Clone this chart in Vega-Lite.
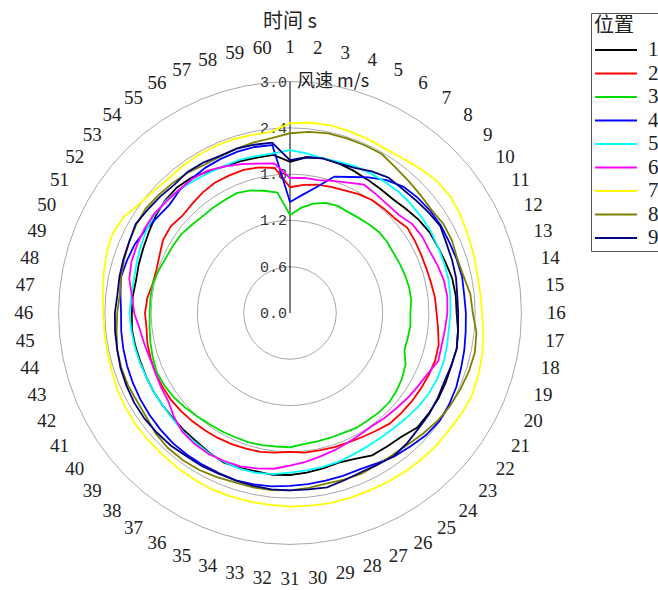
{
"$schema": "https://vega.github.io/schema/vega-lite/v6.json",
"width": 540, "height": 540,
"autosize": "none",
"padding": {"left": 20, "top": 43, "right": 98, "bottom": 7},
"background": "white",
"config": {"view": {"stroke": null}},
"title": {"text": "时间 s", "frame": "group", "anchor": "middle", "offset": -6, "dy": 13, "fontSize": 20, "fontWeight": "normal", "font": "Noto Sans CJK SC", "color": "#222"},
"datasets": {
"rings": [{"r":0.6},{"r":1.2},{"r":1.8},{"r":2.4},{"r":3.0}],
"ticks": [{"r":0},{"r":0.6},{"r":1.2},{"r":1.8},{"r":2.4},{"r":3.0}],
"speed": [
{"s":1,"t":1,"v":1.96},{"s":1,"t":2,"v":2.03},{"s":1,"t":3,"v":2.05},{"s":1,"t":4,"v":2.04},{"s":1,"t":5,"v":2.02},{"s":1,"t":6,"v":2.00},{"s":1,"t":7,"v":1.99},{"s":1,"t":8,"v":1.99},{"s":1,"t":9,"v":2.02},{"s":1,"t":10,"v":2.06},
{"s":1,"t":11,"v":2.09},{"s":1,"t":12,"v":2.10},{"s":1,"t":13,"v":2.12},{"s":1,"t":14,"v":2.15},{"s":1,"t":15,"v":2.16},{"s":1,"t":16,"v":2.16},{"s":1,"t":17,"v":2.19},{"s":1,"t":18,"v":2.21},{"s":1,"t":19,"v":2.20},{"s":1,"t":20,"v":2.21},
{"s":1,"t":21,"v":2.22},{"s":1,"t":22,"v":2.22},{"s":1,"t":23,"v":2.22},{"s":1,"t":24,"v":2.16},{"s":1,"t":25,"v":2.14},{"s":1,"t":26,"v":2.13},{"s":1,"t":27,"v":2.07},{"s":1,"t":28,"v":2.04},{"s":1,"t":29,"v":2.06},{"s":1,"t":30,"v":2.08},
{"s":1,"t":31,"v":2.10},{"s":1,"t":32,"v":2.11},{"s":1,"t":33,"v":2.10},{"s":1,"t":34,"v":2.11},{"s":1,"t":35,"v":2.12},{"s":1,"t":36,"v":2.09},{"s":1,"t":37,"v":2.06},{"s":1,"t":38,"v":2.05},{"s":1,"t":39,"v":2.04},{"s":1,"t":40,"v":2.04},
{"s":1,"t":41,"v":2.04},{"s":1,"t":42,"v":2.04},{"s":1,"t":43,"v":2.04},{"s":1,"t":44,"v":2.05},{"s":1,"t":45,"v":2.06},{"s":1,"t":46,"v":2.05},{"s":1,"t":47,"v":2.05},{"s":1,"t":48,"v":2.04},{"s":1,"t":49,"v":2.06},{"s":1,"t":50,"v":2.08},
{"s":1,"t":51,"v":2.11},{"s":1,"t":52,"v":2.15},{"s":1,"t":53,"v":2.18},{"s":1,"t":54,"v":2.19},{"s":1,"t":55,"v":2.17},{"s":1,"t":56,"v":2.12},{"s":1,"t":57,"v":2.08},{"s":1,"t":58,"v":2.07},{"s":1,"t":59,"v":2.06},{"s":1,"t":60,"v":2.06},
{"s":2,"t":1,"v":1.63},{"s":2,"t":2,"v":1.67},{"s":2,"t":3,"v":1.70},{"s":2,"t":4,"v":1.72},{"s":2,"t":5,"v":1.74},{"s":2,"t":6,"v":1.78},{"s":2,"t":7,"v":1.81},{"s":2,"t":8,"v":1.82},{"s":2,"t":9,"v":1.83},{"s":2,"t":10,"v":1.88},
{"s":2,"t":11,"v":1.87},{"s":2,"t":12,"v":1.86},{"s":2,"t":13,"v":1.86},{"s":2,"t":14,"v":1.87},{"s":2,"t":15,"v":1.89},{"s":2,"t":16,"v":1.90},{"s":2,"t":17,"v":1.93},{"s":2,"t":18,"v":1.97},{"s":2,"t":19,"v":1.98},{"s":2,"t":20,"v":1.97},
{"s":2,"t":21,"v":1.96},{"s":2,"t":22,"v":1.95},{"s":2,"t":23,"v":1.94},{"s":2,"t":24,"v":1.93},{"s":2,"t":25,"v":1.89},{"s":2,"t":26,"v":1.86},{"s":2,"t":27,"v":1.84},{"s":2,"t":28,"v":1.83},{"s":2,"t":29,"v":1.82},{"s":2,"t":30,"v":1.82},
{"s":2,"t":31,"v":1.80},{"s":2,"t":32,"v":1.82},{"s":2,"t":33,"v":1.84},{"s":2,"t":34,"v":1.85},{"s":2,"t":35,"v":1.86},{"s":2,"t":36,"v":1.87},{"s":2,"t":37,"v":1.88},{"s":2,"t":38,"v":1.89},{"s":2,"t":39,"v":1.90},{"s":2,"t":40,"v":1.91},
{"s":2,"t":41,"v":1.91},{"s":2,"t":42,"v":1.91},{"s":2,"t":43,"v":1.90},{"s":2,"t":44,"v":1.89},{"s":2,"t":45,"v":1.87},{"s":2,"t":46,"v":1.88},{"s":2,"t":47,"v":1.86},{"s":2,"t":48,"v":1.82},{"s":2,"t":49,"v":1.82},{"s":2,"t":50,"v":1.85},
{"s":2,"t":51,"v":1.90},{"s":2,"t":52,"v":1.91},{"s":2,"t":53,"v":1.88},{"s":2,"t":54,"v":1.90},{"s":2,"t":55,"v":1.93},{"s":2,"t":56,"v":1.95},{"s":2,"t":57,"v":1.95},{"s":2,"t":58,"v":1.95},{"s":2,"t":59,"v":1.93},{"s":2,"t":60,"v":1.89},
{"s":3,"t":1,"v":1.27},{"s":3,"t":2,"v":1.37},{"s":3,"t":3,"v":1.45},{"s":3,"t":4,"v":1.50},{"s":3,"t":5,"v":1.52},{"s":3,"t":6,"v":1.51},{"s":3,"t":7,"v":1.52},{"s":3,"t":8,"v":1.54},{"s":3,"t":9,"v":1.56},{"s":3,"t":10,"v":1.56},
{"s":3,"t":11,"v":1.55},{"s":3,"t":12,"v":1.56},{"s":3,"t":13,"v":1.57},{"s":3,"t":14,"v":1.58},{"s":3,"t":15,"v":1.58},{"s":3,"t":16,"v":1.56},{"s":3,"t":17,"v":1.57},{"s":3,"t":18,"v":1.56},{"s":3,"t":19,"v":1.56},{"s":3,"t":20,"v":1.64},
{"s":3,"t":21,"v":1.68},{"s":3,"t":22,"v":1.71},{"s":3,"t":23,"v":1.73},{"s":3,"t":24,"v":1.73},{"s":3,"t":25,"v":1.72},{"s":3,"t":26,"v":1.72},{"s":3,"t":27,"v":1.70},{"s":3,"t":28,"v":1.70},{"s":3,"t":29,"v":1.70},{"s":3,"t":30,"v":1.71},
{"s":3,"t":31,"v":1.74},{"s":3,"t":32,"v":1.74},{"s":3,"t":33,"v":1.75},{"s":3,"t":34,"v":1.76},{"s":3,"t":35,"v":1.76},{"s":3,"t":36,"v":1.77},{"s":3,"t":37,"v":1.78},{"s":3,"t":38,"v":1.80},{"s":3,"t":39,"v":1.83},{"s":3,"t":40,"v":1.86},
{"s":3,"t":41,"v":1.88},{"s":3,"t":42,"v":1.89},{"s":3,"t":43,"v":1.87},{"s":3,"t":44,"v":1.85},{"s":3,"t":45,"v":1.83},{"s":3,"t":46,"v":1.82},{"s":3,"t":47,"v":1.82},{"s":3,"t":48,"v":1.82},{"s":3,"t":49,"v":1.79},{"s":3,"t":50,"v":1.76},
{"s":3,"t":51,"v":1.75},{"s":3,"t":52,"v":1.74},{"s":3,"t":53,"v":1.71},{"s":3,"t":54,"v":1.69},{"s":3,"t":55,"v":1.69},{"s":3,"t":56,"v":1.69},{"s":3,"t":57,"v":1.70},{"s":3,"t":58,"v":1.67},{"s":3,"t":59,"v":1.62},{"s":3,"t":60,"v":1.57},
{"s":4,"t":1,"v":1.44},{"s":4,"t":2,"v":1.54},{"s":4,"t":3,"v":1.67},{"s":4,"t":4,"v":1.86},{"s":4,"t":5,"v":1.93},{"s":4,"t":6,"v":2.03},{"s":4,"t":7,"v":2.13},{"s":4,"t":8,"v":2.20},{"s":4,"t":9,"v":2.23},{"s":4,"t":10,"v":2.25},
{"s":4,"t":11,"v":2.26},{"s":4,"t":12,"v":2.26},{"s":4,"t":13,"v":2.27},{"s":4,"t":14,"v":2.28},{"s":4,"t":15,"v":2.27},{"s":4,"t":16,"v":2.28},{"s":4,"t":17,"v":2.29},{"s":4,"t":18,"v":2.31},{"s":4,"t":19,"v":2.33},{"s":4,"t":20,"v":2.36},
{"s":4,"t":21,"v":2.38},{"s":4,"t":22,"v":2.39},{"s":4,"t":23,"v":2.37},{"s":4,"t":24,"v":2.33},{"s":4,"t":25,"v":2.30},{"s":4,"t":26,"v":2.25},{"s":4,"t":27,"v":2.22},{"s":4,"t":28,"v":2.22},{"s":4,"t":29,"v":2.22},{"s":4,"t":30,"v":2.23},
{"s":4,"t":31,"v":2.24},{"s":4,"t":32,"v":2.26},{"s":4,"t":33,"v":2.27},{"s":4,"t":34,"v":2.28},{"s":4,"t":35,"v":2.27},{"s":4,"t":36,"v":2.27},{"s":4,"t":37,"v":2.27},{"s":4,"t":38,"v":2.27},{"s":4,"t":39,"v":2.26},{"s":4,"t":40,"v":2.25},
{"s":4,"t":41,"v":2.24},{"s":4,"t":42,"v":2.23},{"s":4,"t":43,"v":2.22},{"s":4,"t":44,"v":2.21},{"s":4,"t":45,"v":2.20},{"s":4,"t":46,"v":2.19},{"s":4,"t":47,"v":2.21},{"s":4,"t":48,"v":2.24},{"s":4,"t":49,"v":2.22},{"s":4,"t":50,"v":2.20},
{"s":4,"t":51,"v":2.16},{"s":4,"t":52,"v":2.12},{"s":4,"t":53,"v":2.10},{"s":4,"t":54,"v":2.14},{"s":4,"t":55,"v":2.16},{"s":4,"t":56,"v":2.18},{"s":4,"t":57,"v":2.19},{"s":4,"t":58,"v":2.20},{"s":4,"t":59,"v":2.20},{"s":4,"t":60,"v":2.19},
{"s":5,"t":1,"v":2.11},{"s":5,"t":2,"v":2.08},{"s":5,"t":3,"v":2.05},{"s":5,"t":4,"v":2.06},{"s":5,"t":5,"v":2.08},{"s":5,"t":6,"v":2.09},{"s":5,"t":7,"v":2.10},{"s":5,"t":8,"v":2.11},{"s":5,"t":9,"v":2.11},{"s":5,"t":10,"v":2.11},
{"s":5,"t":11,"v":2.11},{"s":5,"t":12,"v":2.10},{"s":5,"t":13,"v":2.10},{"s":5,"t":14,"v":2.10},{"s":5,"t":15,"v":2.09},{"s":5,"t":16,"v":2.08},{"s":5,"t":17,"v":2.07},{"s":5,"t":18,"v":2.08},{"s":5,"t":19,"v":2.09},{"s":5,"t":20,"v":2.09},
{"s":5,"t":21,"v":2.08},{"s":5,"t":22,"v":2.06},{"s":5,"t":23,"v":2.03},{"s":5,"t":24,"v":2.01},{"s":5,"t":25,"v":2.00},{"s":5,"t":26,"v":2.00},{"s":5,"t":27,"v":2.01},{"s":5,"t":28,"v":2.03},{"s":5,"t":29,"v":2.04},{"s":5,"t":30,"v":2.05},
{"s":5,"t":31,"v":2.07},{"s":5,"t":32,"v":2.10},{"s":5,"t":33,"v":2.12},{"s":5,"t":34,"v":2.12},{"s":5,"t":35,"v":2.11},{"s":5,"t":36,"v":2.10},{"s":5,"t":37,"v":2.08},{"s":5,"t":38,"v":2.07},{"s":5,"t":39,"v":2.05},{"s":5,"t":40,"v":2.04},
{"s":5,"t":41,"v":2.04},{"s":5,"t":42,"v":2.04},{"s":5,"t":43,"v":2.05},{"s":5,"t":44,"v":2.06},{"s":5,"t":45,"v":2.07},{"s":5,"t":46,"v":2.08},{"s":5,"t":47,"v":2.07},{"s":5,"t":48,"v":2.07},{"s":5,"t":49,"v":2.09},{"s":5,"t":50,"v":2.12},
{"s":5,"t":51,"v":2.15},{"s":5,"t":52,"v":2.17},{"s":5,"t":53,"v":2.17},{"s":5,"t":54,"v":2.15},{"s":5,"t":55,"v":2.12},{"s":5,"t":56,"v":2.10},{"s":5,"t":57,"v":2.09},{"s":5,"t":58,"v":2.09},{"s":5,"t":59,"v":2.08},{"s":5,"t":60,"v":2.08},
{"s":6,"t":1,"v":1.75},{"s":6,"t":2,"v":1.76},{"s":6,"t":3,"v":1.76},{"s":6,"t":4,"v":1.80},{"s":6,"t":5,"v":1.85},{"s":6,"t":6,"v":1.92},{"s":6,"t":7,"v":1.90},{"s":6,"t":8,"v":1.89},{"s":6,"t":9,"v":1.90},{"s":6,"t":10,"v":1.96},
{"s":6,"t":11,"v":1.98},{"s":6,"t":12,"v":1.98},{"s":6,"t":13,"v":2.01},{"s":6,"t":14,"v":2.04},{"s":6,"t":15,"v":2.05},{"s":6,"t":16,"v":2.04},{"s":6,"t":17,"v":2.02},{"s":6,"t":18,"v":2.01},{"s":6,"t":19,"v":2.02},{"s":6,"t":20,"v":1.95},
{"s":6,"t":21,"v":1.91},{"s":6,"t":22,"v":1.88},{"s":6,"t":23,"v":1.85},{"s":6,"t":24,"v":1.83},{"s":6,"t":25,"v":1.81},{"s":6,"t":26,"v":1.82},{"s":6,"t":27,"v":1.84},{"s":6,"t":28,"v":1.87},{"s":6,"t":29,"v":1.90},{"s":6,"t":30,"v":1.94},
{"s":6,"t":31,"v":1.98},{"s":6,"t":32,"v":2.03},{"s":6,"t":33,"v":2.06},{"s":6,"t":34,"v":2.09},{"s":6,"t":35,"v":2.10},{"s":6,"t":36,"v":2.11},{"s":6,"t":37,"v":2.10},{"s":6,"t":38,"v":2.08},{"s":6,"t":39,"v":2.02},{"s":6,"t":40,"v":1.95},
{"s":6,"t":41,"v":1.93},{"s":6,"t":42,"v":1.91},{"s":6,"t":43,"v":1.91},{"s":6,"t":44,"v":1.93},{"s":6,"t":45,"v":1.96},{"s":6,"t":46,"v":2.02},{"s":6,"t":47,"v":2.06},{"s":6,"t":48,"v":2.13},{"s":6,"t":49,"v":2.16},{"s":6,"t":50,"v":2.17},
{"s":6,"t":51,"v":2.18},{"s":6,"t":52,"v":2.18},{"s":6,"t":53,"v":2.16},{"s":6,"t":54,"v":2.15},{"s":6,"t":55,"v":2.15},{"s":6,"t":56,"v":2.13},{"s":6,"t":57,"v":2.08},{"s":6,"t":58,"v":2.03},{"s":6,"t":59,"v":1.98},{"s":6,"t":60,"v":1.95},
{"s":7,"t":1,"v":2.46},{"s":7,"t":2,"v":2.48},{"s":7,"t":3,"v":2.49},{"s":7,"t":4,"v":2.48},{"s":7,"t":5,"v":2.47},{"s":7,"t":6,"v":2.46},{"s":7,"t":7,"v":2.48},{"s":7,"t":8,"v":2.52},{"s":7,"t":9,"v":2.56},{"s":7,"t":10,"v":2.57},
{"s":7,"t":11,"v":2.55},{"s":7,"t":12,"v":2.52},{"s":7,"t":13,"v":2.50},{"s":7,"t":14,"v":2.48},{"s":7,"t":15,"v":2.48},{"s":7,"t":16,"v":2.49},{"s":7,"t":17,"v":2.52},{"s":7,"t":18,"v":2.55},{"s":7,"t":19,"v":2.57},{"s":7,"t":20,"v":2.59},
{"s":7,"t":21,"v":2.58},{"s":7,"t":22,"v":2.56},{"s":7,"t":23,"v":2.56},{"s":7,"t":24,"v":2.55},{"s":7,"t":25,"v":2.54},{"s":7,"t":26,"v":2.53},{"s":7,"t":27,"v":2.52},{"s":7,"t":28,"v":2.52},{"s":7,"t":29,"v":2.52},{"s":7,"t":30,"v":2.51},
{"s":7,"t":31,"v":2.51},{"s":7,"t":32,"v":2.50},{"s":7,"t":33,"v":2.50},{"s":7,"t":34,"v":2.50},{"s":7,"t":35,"v":2.50},{"s":7,"t":36,"v":2.49},{"s":7,"t":37,"v":2.48},{"s":7,"t":38,"v":2.47},{"s":7,"t":39,"v":2.47},{"s":7,"t":40,"v":2.47},
{"s":7,"t":41,"v":2.46},{"s":7,"t":42,"v":2.45},{"s":7,"t":43,"v":2.43},{"s":7,"t":44,"v":2.42},{"s":7,"t":45,"v":2.42},{"s":7,"t":46,"v":2.42},{"s":7,"t":47,"v":2.44},{"s":7,"t":48,"v":2.47},{"s":7,"t":49,"v":2.50},{"s":7,"t":50,"v":2.52},
{"s":7,"t":51,"v":2.49},{"s":7,"t":52,"v":2.41},{"s":7,"t":53,"v":2.37},{"s":7,"t":54,"v":2.35},{"s":7,"t":55,"v":2.36},{"s":7,"t":56,"v":2.37},{"s":7,"t":57,"v":2.37},{"s":7,"t":58,"v":2.37},{"s":7,"t":59,"v":2.36},{"s":7,"t":60,"v":2.36},
{"s":8,"t":1,"v":2.33},{"s":8,"t":2,"v":2.36},{"s":8,"t":3,"v":2.38},{"s":8,"t":4,"v":2.38},{"s":8,"t":5,"v":2.38},{"s":8,"t":6,"v":2.38},{"s":8,"t":7,"v":2.33},{"s":8,"t":8,"v":2.30},{"s":8,"t":9,"v":2.28},{"s":8,"t":10,"v":2.27},
{"s":8,"t":11,"v":2.30},{"s":8,"t":12,"v":2.30},{"s":8,"t":13,"v":2.28},{"s":8,"t":14,"v":2.30},{"s":8,"t":15,"v":2.35},{"s":8,"t":16,"v":2.37},{"s":8,"t":17,"v":2.43},{"s":8,"t":18,"v":2.45},{"s":8,"t":19,"v":2.44},{"s":8,"t":20,"v":2.42},
{"s":8,"t":21,"v":2.40},{"s":8,"t":22,"v":2.37},{"s":8,"t":23,"v":2.33},{"s":8,"t":24,"v":2.29},{"s":8,"t":25,"v":2.27},{"s":8,"t":26,"v":2.27},{"s":8,"t":27,"v":2.28},{"s":8,"t":28,"v":2.27},{"s":8,"t":29,"v":2.26},{"s":8,"t":30,"v":2.28},
{"s":8,"t":31,"v":2.30},{"s":8,"t":32,"v":2.31},{"s":8,"t":33,"v":2.31},{"s":8,"t":34,"v":2.31},{"s":8,"t":35,"v":2.33},{"s":8,"t":36,"v":2.35},{"s":8,"t":37,"v":2.36},{"s":8,"t":38,"v":2.36},{"s":8,"t":39,"v":2.34},{"s":8,"t":40,"v":2.30},
{"s":8,"t":41,"v":2.29},{"s":8,"t":42,"v":2.30},{"s":8,"t":43,"v":2.30},{"s":8,"t":44,"v":2.29},{"s":8,"t":45,"v":2.26},{"s":8,"t":46,"v":2.24},{"s":8,"t":47,"v":2.22},{"s":8,"t":48,"v":2.24},{"s":8,"t":49,"v":2.26},{"s":8,"t":50,"v":2.28},
{"s":8,"t":51,"v":2.30},{"s":8,"t":52,"v":2.31},{"s":8,"t":53,"v":2.29},{"s":8,"t":54,"v":2.27},{"s":8,"t":55,"v":2.25},{"s":8,"t":56,"v":2.22},{"s":8,"t":57,"v":2.22},{"s":8,"t":58,"v":2.24},{"s":8,"t":59,"v":2.26},{"s":8,"t":60,"v":2.28},
{"s":9,"t":1,"v":1.98},{"s":9,"t":2,"v":2.03},{"s":9,"t":3,"v":2.05},{"s":9,"t":4,"v":2.04},{"s":9,"t":5,"v":2.06},{"s":9,"t":6,"v":2.12},{"s":9,"t":7,"v":2.17},{"s":9,"t":8,"v":2.17},{"s":9,"t":9,"v":2.19},{"s":9,"t":10,"v":2.22},
{"s":9,"t":11,"v":2.25},{"s":9,"t":12,"v":2.22},{"s":9,"t":13,"v":2.21},{"s":9,"t":14,"v":2.20},{"s":9,"t":15,"v":2.18},{"s":9,"t":16,"v":2.18},{"s":9,"t":17,"v":2.19},{"s":9,"t":18,"v":2.21},{"s":9,"t":19,"v":2.20},{"s":9,"t":20,"v":2.19},
{"s":9,"t":21,"v":2.21},{"s":9,"t":22,"v":2.23},{"s":9,"t":23,"v":2.24},{"s":9,"t":24,"v":2.27},{"s":9,"t":25,"v":2.29},{"s":9,"t":26,"v":2.27},{"s":9,"t":27,"v":2.26},{"s":9,"t":28,"v":2.28},{"s":9,"t":29,"v":2.31},{"s":9,"t":30,"v":2.30},
{"s":9,"t":31,"v":2.30},{"s":9,"t":32,"v":2.30},{"s":9,"t":33,"v":2.29},{"s":9,"t":34,"v":2.28},{"s":9,"t":35,"v":2.28},{"s":9,"t":36,"v":2.29},{"s":9,"t":37,"v":2.29},{"s":9,"t":38,"v":2.31},{"s":9,"t":39,"v":2.32},{"s":9,"t":40,"v":2.33},
{"s":9,"t":41,"v":2.33},{"s":9,"t":42,"v":2.32},{"s":9,"t":43,"v":2.31},{"s":9,"t":44,"v":2.29},{"s":9,"t":45,"v":2.28},{"s":9,"t":46,"v":2.27},{"s":9,"t":47,"v":2.25},{"s":9,"t":48,"v":2.26},{"s":9,"t":49,"v":2.27},{"s":9,"t":50,"v":2.28},
{"s":9,"t":51,"v":2.31},{"s":9,"t":52,"v":2.28},{"s":9,"t":53,"v":2.26},{"s":9,"t":54,"v":2.24},{"s":9,"t":55,"v":2.26},{"s":9,"t":56,"v":2.25},{"s":9,"t":57,"v":2.23},{"s":9,"t":58,"v":2.24},{"s":9,"t":59,"v":2.23},{"s":9,"t":60,"v":2.22}
]
},
"layer": [
{
"data": {"name": "rings"},
"mark": {"type": "arc", "theta": 0, "theta2": 6.2832, "fillOpacity": 0, "stroke": "#a8a8a8", "strokeWidth": 1},
"encoding": {
"radius": {"field": "r", "type": "quantitative", "stack": null, "scale": {"type": "linear", "domain": [0, 3.5], "range": [0, 270], "zero": true}}
}
},
{
"data": {"name": "ticks"},
"transform": [{"filter": "datum.r == 3"}],
"mark": {"type": "rule", "color": "#000000", "strokeWidth": 1},
"encoding": {
"x": {"datum": 0, "type": "quantitative", "scale": {"domain": [-3.5, 3.5], "nice": false, "zero": false}, "axis": null},
"y": {"field": "r", "type": "quantitative", "scale": {"domain": [-3.5, 3.5], "nice": false, "zero": false}, "axis": null},
"y2": {"datum": 0}
}
},
{
"data": {"name": "ticks"},
"mark": {"type": "text", "align": "right", "baseline": "middle", "dx": -3, "font": "Liberation Mono", "fontSize": 15, "color": "#333333"},
"encoding": {
"x": {"datum": 0, "type": "quantitative"},
"y": {"field": "r", "type": "quantitative"},
"text": {"field": "r", "type": "quantitative", "format": ".1f"}
}
},
{
"data": {"name": "ticks"},
"transform": [{"filter": "datum.r == 3"}],
"mark": {"type": "text", "align": "left", "baseline": "middle", "dx": 7, "font": "Noto Sans CJK SC", "fontSize": 18, "color": "#222222"},
"encoding": {
"x": {"datum": 0, "type": "quantitative"},
"y": {"field": "r", "type": "quantitative"},
"text": {"value": "风速 m/s"}
}
},
{
"data": {"name": "speed"},
"transform": [
{"calculate": "(datum.t - 1) * PI / 30", "as": "a"},
{"calculate": "datum.v * sin(datum.a)", "as": "px"},
{"calculate": "datum.v * cos(datum.a)", "as": "py"}
],
"mark": {"type": "line", "interpolate": "linear-closed", "strokeWidth": 1.8},
"encoding": {
"x": {"field": "px", "type": "quantitative"},
"y": {"field": "py", "type": "quantitative"},
"order": {"field": "t", "type": "quantitative"},
"color": {
"field": "s", "type": "nominal",
"scale": {"domain": [1,2,3,4,5,6,7,8,9], "range": ["#000000","#ff0000","#00dd00","#0000ff","#00ffff","#ff00ff","#ffff00","#808000","#000080"]},
"legend": {
"title": "位置", "orient": "none", "legendX": 571, "legendY": -30,
"strokeColor": "#555555", "padding": 3, "fillColor": "white",
"titleFont": "Noto Sans CJK SC", "titleFontSize": 20, "titleFontWeight": "normal", "titleColor": "#222222", "titlePadding": 4,
"labelFont": "Liberation Serif, DejaVu Serif, serif", "labelFontSize": 21, "labelColor": "#222222", "labelOffset": 10,
"symbolType": "stroke", "symbolSize": 1764, "symbolStrokeWidth": 2, "clipHeight": 20, "rowPadding": 2.5
}
}
}
},
{
"data": {"name": "speed"},
"transform": [
{"filter": "datum.s == 1"},
{"calculate": "(datum.t - 1) * PI / 30", "as": "a"},
{"calculate": "3.45 * sin(datum.a)", "as": "lx"},
{"calculate": "3.45 * cos(datum.a)", "as": "ly"}
],
"mark": {"type": "text", "align": "center", "baseline": "middle", "font": "Liberation Serif, DejaVu Serif, serif", "fontSize": 19, "color": "#222222"},
"encoding": {
"x": {"field": "lx", "type": "quantitative"},
"y": {"field": "ly", "type": "quantitative"},
"text": {"field": "t", "type": "quantitative"}
}
}
]
}
